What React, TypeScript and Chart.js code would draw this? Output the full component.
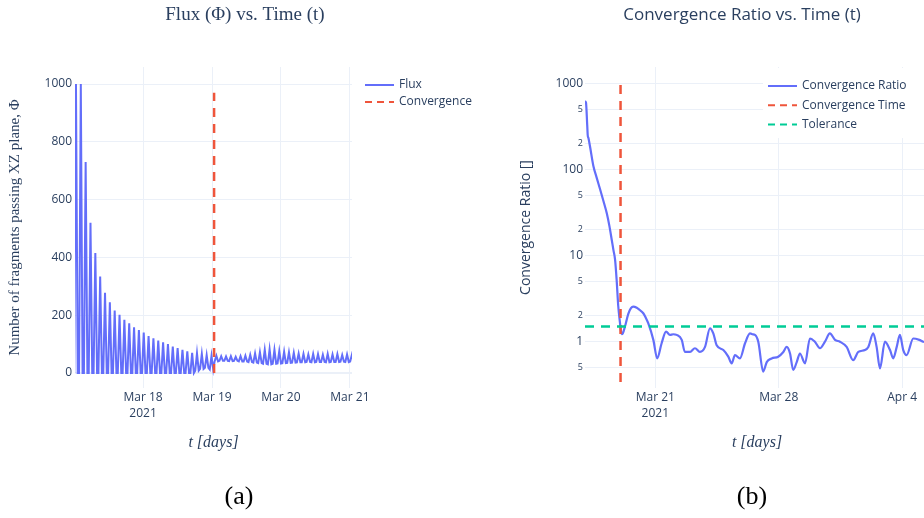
import { useEffect, useRef } from 'react';
import { Chart, registerables } from 'chart.js';

Chart.register(...registerables);

// ---- Flux: one peak / trough pair per oscillation cycle (fragments through the XZ plane)
const fluxPeaks = [
  1000, 1000, 730, 520, 415, 334, 278, 245, 216, 201,
  184, 172, 158, 149, 140, 128, 120, 112, 106, 100,
  91, 86, 80, 75, 70, 68, 66, 62, 59,
  60, 58, 57, 58, 56, 58, 60, 63, 68, 72,
  80, 82, 80, 76, 74, 72, 70, 67, 66, 64,
  66, 65, 63, 66, 64, 65, 62, 64, 63,
];
const fluxTroughs = [
  0, 0, 0, 0, 0, 0, 0, 0, 0, 0,
  0, 0, 0, 0, 0, 0, 0, 0, 0, 0,
  0, 0, 0, 0, 0, 8, 14, 18, 12,
  40, 42, 42, 41, 42, 40, 40, 38, 36, 34,
  32, 30, 32, 33, 34, 35, 36, 37, 37, 38,
  37, 38, 38, 37, 38, 38, 39, 38, 40,
];
// cycle timing, in days after Mar 17 2021 00:00
const FLUX_T0 = 0.027;
const FLUX_PERIOD = 0.0702;

// ---- Convergence ratio samples (days after Mar 17 2021 00:00)
const ratioDays = [
  0.015, 0.07, 0.14, 0.17, 0.21, 0.3, 0.49, 0.68, 0.87, 1.06,
  1.25, 1.4, 1.53, 1.63, 1.72, 1.81, 1.9, 2.0, 2.06, 2.1,
  2.16, 2.28, 2.47, 2.62, 2.75, 2.95, 3.1, 3.32, 3.46, 3.6,
  3.89, 4.11, 4.36, 4.61, 4.83, 5.02, 5.21, 5.5, 5.68, 5.97,
  6.25, 6.53, 6.82, 7.1, 7.29, 7.48, 7.86, 8.14, 8.33, 8.52,
  8.8, 9.09, 9.37, 9.5, 9.65, 9.84, 10.12, 10.32, 10.6, 10.97,
  11.26, 11.45, 11.64, 11.82, 12.02, 12.2, 12.49, 12.77, 13.05, 13.34,
  13.62, 13.9, 14.19, 14.47, 14.85, 15.22, 15.51, 15.89, 16.08, 16.36,
  16.55, 16.74, 17.02, 17.31, 17.49, 17.69, 17.87, 18.06, 18.25, 18.63,
  18.97, 19.19, 19.52,
];
const ratioValues = [
  620, 600, 330, 250, 232, 185, 110, 80, 59, 43,
  31, 22, 15.3, 11.5, 9, 5.2, 2.6, 1.64, 1.3, 1.22,
  1.25, 1.5, 2.1, 2.45, 2.56, 2.48, 2.35, 2.14, 1.9, 1.64,
  1.05, 0.64, 0.96, 1.31, 1.2, 1.22, 1.2, 1.05, 0.76, 0.76,
  0.84, 0.76, 0.87, 1.43, 1.25, 0.91, 0.8, 0.67, 0.56, 0.7,
  0.64, 0.96, 1.25, 1.22, 1.2, 1.0, 0.45, 0.58, 0.64, 0.67,
  0.76, 0.87, 0.73, 0.47, 0.58, 0.73, 0.56, 1.09, 1.0, 0.84,
  1.0, 1.25, 1.05, 1.0, 0.87, 0.61, 0.76, 0.8, 0.87, 1.25,
  0.87, 0.49, 1.0, 0.8, 0.64, 0.87, 1.2, 0.8, 0.7, 1.09,
  1.05, 1.0, 0.98,
];

const CONVERGENCE_DAY = 2.03;
const FLUX_MARKER_TOP = 970;
const RATIO_MARKER_RANGE = [0.34, 1000];
const TOLERANCE = 1.5;

// ---- Axis ticks
const fluxTicks = [0, 200, 400, 600, 800, 1000];
const fluxDayTicks = [1, 2, 3, 4];
const fluxDayLabels = [['Mar 18', '2021'], ['Mar 19'], ['Mar 20'], ['Mar 21']];
const ratioDayTicks = [4, 11, 18];
const ratioDayLabels = [['Mar 21', '2021'], ['Mar 28'], ['Apr 4']];
const ratioTicks = [0.5, 1, 2, 5, 10, 20, 50, 100, 200, 500, 1000];
const ratioTickLabels = ['5', '1', '2', '5', '10', '2', '5', '100', '2', '5', '1000'];
const ratioMajorTicks = [1, 10, 100, 1000];

const BLUE = '#636efa';
const RED = '#EF553B';
const GREEN = '#00cc96';
const INK = '#2a3f5f';
const GRID = '#EBF0F8';
const SANS = '"Open Sans", sans-serif';
const SERIF = '"Liberation Serif", serif';

// Draws the legend rows and the sub-figure caption on the canvas
const decorPlugin = {
  id: 'decor',
  afterDraw(chart: any, _args: any, opts: any) {
    const { ctx } = chart;
    ctx.save();
    if (opts.box) {
      ctx.fillStyle = '#ffffff';
      ctx.fillRect(opts.box[0], opts.box[1], opts.box[2], opts.box[3]);
    }
    (opts.items || []).forEach((item: any, i: number) => {
      const y = opts.y + i * opts.dy;
      ctx.strokeStyle = item.color;
      ctx.lineWidth = 2;
      ctx.setLineDash(item.dash || []);
      ctx.beginPath();
      ctx.moveTo(opts.x, y);
      ctx.lineTo(opts.x + 29, y);
      ctx.stroke();
      ctx.setLineDash([]);
      ctx.fillStyle = INK;
      ctx.font = `12px ${SANS}`;
      ctx.textAlign = 'left';
      ctx.textBaseline = 'middle';
      ctx.fillText(item.label, opts.x + 34, y);
    });
    if (opts.caption) {
      ctx.fillStyle = '#000000';
      ctx.font = `26px ${SERIF}`;
      ctx.textAlign = 'center';
      ctx.textBaseline = 'middle';
      ctx.fillText(opts.caption.text, opts.caption.x, opts.caption.y);
    }
    ctx.restore();
  },
};

function buildFluxPoints() {
  const w = FLUX_PERIOD * 0.36;
  return fluxPeaks.flatMap((peak, k) => {
    const t = FLUX_T0 + k * FLUX_PERIOD;
    return [
      { x: t - w, y: fluxTroughs[k] },
      { x: t, y: peak },
      { x: t + w, y: fluxTroughs[k] },
    ];
  });
}

// An empty right-hand axis that reserves room for the legend column
function spacerAxis(width: number) {
  return {
    type: 'linear',
    position: 'right',
    display: true,
    grid: { display: false, drawTicks: false },
    border: { display: false },
    ticks: { display: false },
    afterFit: (s: any) => {
      s.width = width;
    },
  };
}

export default function App() {
  const leftRef = useRef<HTMLCanvasElement | null>(null);
  const rightRef = useRef<HTMLCanvasElement | null>(null);

  useEffect(() => {
    const left = new Chart(leftRef.current as HTMLCanvasElement, {
      type: 'scatter',
      data: {
        datasets: [
          {
            label: 'Flux',
            data: buildFluxPoints(),
            showLine: true,
            borderColor: BLUE,
            borderWidth: 2,
            pointRadius: 0,
            order: 1,
          },
          {
            label: 'Convergence',
            data: [
              { x: CONVERGENCE_DAY, y: 0 },
              { x: CONVERGENCE_DAY, y: FLUX_MARKER_TOP },
            ],
            showLine: true,
            borderColor: RED,
            borderWidth: 2.5,
            borderDash: [9, 7],
            pointRadius: 0,
            order: 0,
          },
        ],
      },
      options: {
        animation: false,
        responsive: false,
        events: [],
        layout: { padding: { left: 0, right: 0, top: 0, bottom: 60 } },
        plugins: {
          legend: { display: false },
          tooltip: { enabled: false },
          title: {
            display: true,
            text: 'Flux (Φ) vs. Time (t)',
            color: INK,
            font: { family: SERIF, size: 19, weight: 'normal' },
            padding: { top: 3.6, bottom: 40.6 },
          },
          decor: {
            x: 365,
            y: 85,
            dy: 17,
            items: [
              { label: 'Flux', color: BLUE },
              { label: 'Convergence', color: RED, dash: [7, 5] },
            ],
            caption: { text: '(a)', x: 239, y: 497 },
          },
        } as any,
        scales: {
          x: {
            type: 'linear',
            min: 0.013,
            max: 4.03,
            afterBuildTicks: (s: any) => {
              s.ticks = fluxDayTicks.map((v) => ({ value: v }));
            },
            afterFit: (s: any) => {
              s.height = 70;
            },
            grid: { color: GRID, drawTicks: false },
            border: { display: false },
            ticks: {
              color: INK,
              font: { family: SANS, size: 12, lineHeight: 1.333 },
              padding: 2,
              maxRotation: 0,
              autoSkip: false,
              callback: (_v: any, i: number) => fluxDayLabels[i],
            },
            title: {
              display: true,
              text: 't [days]',
              color: INK,
              font: { family: SERIF, size: 16, style: 'italic' },
              padding: { top: 0, bottom: 5.4 },
            },
          },
          y: {
            type: 'linear',
            min: -52,
            max: 1059,
            afterBuildTicks: (s: any) => {
              s.ticks = fluxTicks.map((v) => ({ value: v }));
            },
            afterFit: (s: any) => {
              s.width = 75;
            },
            grid: {
              color: GRID,
              drawTicks: false,
              lineWidth: (c: any) => (c.tick && c.tick.value === 0 ? 2 : 1),
            },
            border: { display: false },
            ticks: {
              color: INK,
              font: { family: SANS, size: 12 },
              padding: 3,
              autoSkip: false,
              callback: (v: any) => String(v),
            },
            title: {
              display: true,
              text: 'Number of fragments passing XZ plane, Φ',
              color: INK,
              font: { family: SERIF, size: 15 },
              padding: { top: 6, bottom: 0 },
            },
          },
          side: spacerAxis(138),
        },
      } as any,
      plugins: [decorPlugin],
    });

    const right = new Chart(rightRef.current as HTMLCanvasElement, {
      type: 'scatter',
      data: {
        datasets: [
          {
            label: 'Convergence Ratio',
            data: ratioDays.map((d, i) => ({ x: d, y: ratioValues[i] })),
            showLine: true,
            borderColor: BLUE,
            borderWidth: 2.2,
            pointRadius: 0,
            cubicInterpolationMode: 'monotone',
            order: 2,
          },
          {
            label: 'Convergence Time',
            data: [
              { x: CONVERGENCE_DAY, y: RATIO_MARKER_RANGE[0] },
              { x: CONVERGENCE_DAY, y: RATIO_MARKER_RANGE[1] },
            ],
            showLine: true,
            borderColor: RED,
            borderWidth: 2.5,
            borderDash: [9, 7],
            pointRadius: 0,
            order: 1,
          },
          {
            label: 'Tolerance',
            data: [
              { x: ratioDays[0], y: TOLERANCE },
              { x: ratioDays[ratioDays.length - 1], y: TOLERANCE },
            ],
            showLine: true,
            borderColor: GREEN,
            borderWidth: 2.5,
            borderDash: [9, 7],
            pointRadius: 0,
            order: 0,
          },
        ],
      },
      options: {
        animation: false,
        responsive: false,
        events: [],
        layout: { padding: { left: 0, right: 0, top: 0, bottom: 60 } },
        plugins: {
          legend: { display: false },
          tooltip: { enabled: false },
          title: {
            display: true,
            text: 'Convergence Ratio vs. Time (t)',
            color: INK,
            font: { family: SANS, size: 17, weight: 'normal' },
            padding: { top: 4.8, bottom: 41.8 },
          },
          decor: {
            box: [273, 68, 240, 70],
            x: 278,
            y: 86,
            dy: 19.3,
            items: [
              { label: 'Convergence Ratio', color: BLUE },
              { label: 'Convergence Time', color: RED, dash: [7, 5] },
              { label: 'Tolerance', color: GREEN, dash: [7, 5] },
            ],
            caption: { text: '(b)', x: 262, y: 497 },
          },
        } as any,
        scales: {
          x: {
            type: 'linear',
            min: 0.015,
            max: 19.52,
            afterBuildTicks: (s: any) => {
              s.ticks = ratioDayTicks.map((v) => ({ value: v }));
            },
            afterFit: (s: any) => {
              s.height = 70;
            },
            grid: { color: GRID, drawTicks: false },
            border: { display: false },
            ticks: {
              color: INK,
              font: { family: SANS, size: 12, lineHeight: 1.333 },
              padding: 2,
              maxRotation: 0,
              autoSkip: false,
              callback: (_v: any, i: number) => ratioDayLabels[i],
            },
            title: {
              display: true,
              text: 't [days]',
              color: INK,
              font: { family: SERIF, size: 16, style: 'italic' },
              padding: { top: 0, bottom: 5.4 },
            },
          },
          y: {
            type: 'logarithmic',
            min: 0.29,
            max: 1550,
            afterBuildTicks: (s: any) => {
              s.ticks = ratioTicks.map((v) => ({ value: v }));
            },
            afterFit: (s: any) => {
              s.width = 95;
            },
            grid: { color: GRID, drawTicks: false },
            border: { display: false },
            ticks: {
              color: INK,
              font: (c: any) => ({
                family: SANS,
                size: c.tick && ratioMajorTicks.includes(c.tick.value) ? 12 : 9,
              }),
              padding: 2,
              autoSkip: false,
              callback: (_v: any, i: number) => ratioTickLabels[i],
            },
            title: {
              display: true,
              text: 'Convergence Ratio []',
              color: INK,
              font: { family: SANS, size: 14 },
              padding: { top: 27.6, bottom: 0 },
            },
          },
          side: spacerAxis(65),
        },
      } as any,
      plugins: [decorPlugin],
    });

    return () => {
      left.destroy();
      right.destroy();
    };
  }, []);

  return (
    <div
      style={{
        position: 'fixed',
        left: 0,
        top: 0,
        width: 924,
        height: 518,
        overflow: 'hidden',
        background: '#ffffff',
      }}
    >
      <canvas
        ref={leftRef}
        width={490}
        height={518}
        style={{ position: 'absolute', left: 0, top: 0, width: 490, height: 518 }}
      />
      <canvas
        ref={rightRef}
        width={504}
        height={518}
        style={{ position: 'absolute', left: 490, top: 0, width: 504, height: 518 }}
      />
    </div>
  );
}
